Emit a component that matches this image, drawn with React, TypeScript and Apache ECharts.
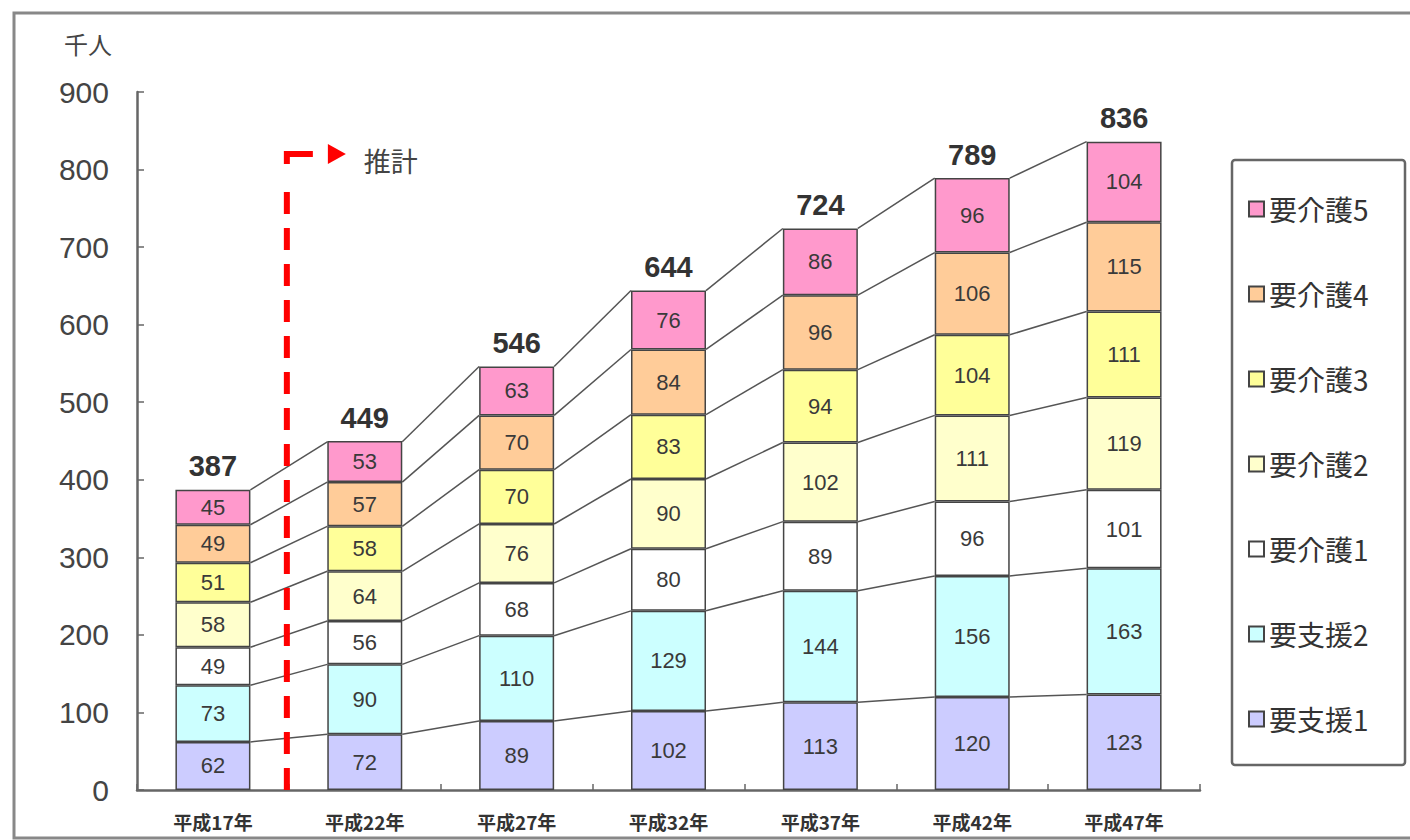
import React, { useEffect, useRef } from "react";
import * as echarts from "echarts";

const categories = ["平成17年", "平成22年", "平成27年", "平成32年", "平成37年", "平成42年", "平成47年"];
const seriesNames = ["要支援1", "要支援2", "要介護1", "要介護2", "要介護3", "要介護4", "要介護5"];
const shien1 = [62, 72, 89, 102, 113, 120, 123];
const shien2 = [73, 90, 110, 129, 144, 156, 163];
const kaigo1 = [49, 56, 68, 80, 89, 96, 101];
const kaigo2 = [58, 64, 76, 90, 102, 111, 119];
const kaigo3 = [51, 58, 70, 83, 94, 104, 111];
const kaigo4 = [49, 57, 70, 84, 96, 106, 115];
const kaigo5 = [45, 53, 63, 76, 86, 96, 104];
const totals = [387, 449, 546, 644, 724, 789, 836];
const colors = ["#ccccff", "#ccffff", "#ffffff", "#ffffcc", "#ffff99", "#ffcc99", "#ff99cc"];
const estimateTop = 820;

const allSeries = [shien1, shien2, kaigo1, kaigo2, kaigo3, kaigo4, kaigo5];
const BAR_W = 75;
const FONT = "'Liberation Sans', 'Noto Sans CJK JP', sans-serif";
const CJK = "'Noto Sans CJK JP', 'Liberation Sans', sans-serif";

function cumulative(i: number): number[] {
  const out: number[] = [];
  let s = 0;
  for (const arr of allSeries) {
    s += arr[i];
    out.push(s);
  }
  return out;
}

export default function App() {
  const ref = useRef<HTMLDivElement>(null);
  useEffect(() => {
    if (!ref.current) return;
    const chart = echarts.init(ref.current, null, { renderer: "svg" });
    const barSeries = allSeries.map((arr, k) => ({
      name: seriesNames[k],
      type: "bar",
      stack: "total",
      barWidth: BAR_W,
      data: arr,
      z: 3,
      itemStyle: { color: colors[k], borderColor: "#444", borderWidth: 1.5 },
      label: {
        show: true,
        position: "inside",
        fontSize: 22,
        color: "#3a3a3a",
        fontFamily: FONT,
      },
    }));
    chart.setOption({
      animation: false,
      backgroundColor: "#ffffff",
      grid: { left: 137, right: 210, top: 92, bottom: 50 },
      xAxis: {
        type: "category",
        data: categories,
        axisLine: { lineStyle: { color: "#666", width: 2.5 } },
        axisTick: { show: true, inside: true, length: 6, lineStyle: { color: "#666", width: 1.5 } },
        axisLabel: { fontSize: 19, fontWeight: "bold", color: "#333", margin: 22, fontFamily: CJK },
      },
      yAxis: {
        type: "value",
        min: 0,
        max: 900,
        interval: 100,
        splitLine: { show: false },
        axisLine: { show: true, lineStyle: { color: "#666", width: 2.5 } },
        axisTick: { show: true, inside: true, length: 7, lineStyle: { color: "#666", width: 1.5 } },
        axisLabel: { fontSize: 30, color: "#444", margin: 28, fontFamily: FONT },
      },
      legend: {
        orient: "vertical",
        left: 1243,
        top: 190,
        itemWidth: 15,
        itemHeight: 15,
        itemGap: 57,
        icon: "rect",
        data: [...seriesNames].reverse(),
        textStyle: { fontSize: 28, lineHeight: 28, color: "#333", fontFamily: CJK },
      },
      graphic: [
        {
          type: "rect",
          shape: { x: 14, y: 13, width: 1420, height: 825 },
          style: { fill: "none", stroke: "#888", lineWidth: 3 },
          silent: true,
        },
        {
          type: "rect",
          shape: { x: 1232, y: 160, width: 173, height: 605, r: 3 },
          style: { fill: "none", stroke: "#666", lineWidth: 2.5 },
          silent: true,
        },
        {
          type: "text",
          x: 64,
          y: 31,
          style: { text: "千人", fontSize: 24, fill: "#444", fontFamily: CJK },
        },
      ],
      series: [
        ...barSeries,
        {
          type: "custom",
          name: "connectors",
          z: 2,
          data: categories.slice(0, categories.length - 1).map((_, i) => [i, 0]),
          encode: { x: 0, y: 1 },
          renderItem: (params: any, api: any) => {
            const i = params.dataIndex;
            const a = cumulative(i);
            const b = cumulative(i + 1);
            a[a.length - 1] = totals[i];
            b[b.length - 1] = totals[i + 1];
            const children = a.map((v, k) => {
              const p1 = api.coord([i, v]);
              const p2 = api.coord([i + 1, b[k]]);
              return {
                type: "line",
                shape: { x1: p1[0] + BAR_W / 2, y1: p1[1], x2: p2[0] - BAR_W / 2, y2: p2[1] },
                style: { stroke: "#555", lineWidth: 1.5 },
              };
            });
            return { type: "group", children };
          },
        },
        {
          type: "custom",
          name: "totals",
          z: 4,
          data: totals.map((t, i) => [i, t]),
          encode: { x: 0, y: 1 },
          renderItem: (params: any, api: any) => {
            const p = api.coord([api.value(0), api.value(1)]);
            return {
              type: "text",
              x: p[0],
              y: p[1] - 9,
              style: {
                text: String(api.value(1)),
                fontSize: 29,
                fontWeight: "bold",
                fill: "#333",
                fontFamily: FONT,
                textAlign: "center",
                textVerticalAlign: "bottom",
              },
            };
          },
        },
        {
          type: "custom",
          name: "estimate",
          z: 5,
          data: [[0, estimateTop]],
          encode: { x: 0, y: 1 },
          renderItem: (params: any, api: any) => {
            const c0 = api.coord([0, 0]);
            const c1 = api.coord([1, 0]);
            const x = (c0[0] + c1[0]) / 2 - 2;
            const top = api.coord([0, estimateTop])[1];
            return {
              type: "group",
              children: [
                {
                  type: "line",
                  shape: { x1: x, y1: c0[1], x2: x, y2: top + 24 },
                  style: { stroke: "#ff0000", lineWidth: 6, lineDash: [22, 14] },
                },
                {
                  type: "polyline",
                  shape: { points: [[x, top + 10], [x, top], [x + 26, top]] },
                  style: { stroke: "#ff0000", lineWidth: 6, fill: "none" },
                },
                {
                  type: "polygon",
                  shape: { points: [[x + 41, top - 10], [x + 59, top], [x + 41, top + 10]] },
                  style: { fill: "#ff0000" },
                },
                {
                  type: "text",
                  x: x + 77,
                  y: top + 6,
                  style: {
                    text: "推計",
                    fontSize: 27,
                    fill: "#444",
                    fontFamily: CJK,
                    textVerticalAlign: "middle",
                  },
                },
              ],
            };
          },
        },
      ],
    });
    return () => chart.dispose();
  }, []);
  return (
    <div
      ref={ref}
      style={{ position: "fixed", left: 0, top: 0, width: 1410, height: 840 }}
    />
  );
}
